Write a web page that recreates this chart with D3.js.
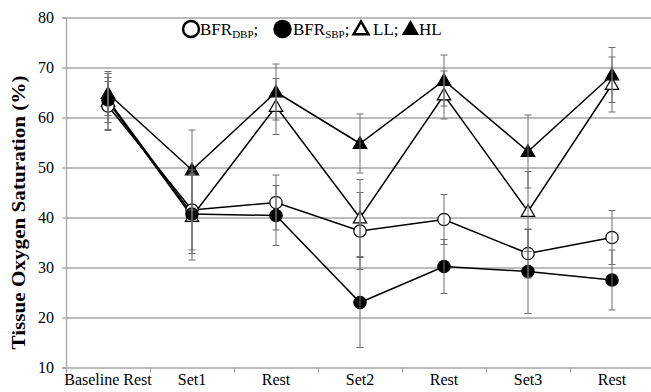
<!DOCTYPE html>
<html>
<head>
<meta charset="utf-8">
<script src="https://cdn.jsdelivr.net/npm/d3@7"></script>
<style>
  html, body { margin: 0; padding: 0; background: #fff; }
  svg { display: block; }
  svg text { font-family: "Liberation Serif", "Times New Roman", serif; }
</style>
</head>
<body>
<svg id="chart" width="651" height="392"></svg>
<script>
// ---- data ----
const categories = ["Baseline Rest", "Set1", "Rest", "Set2", "Rest", "Set3", "Rest"];
const yTicks = [10, 20, 30, 40, 50, 60, 70, 80];

const bfrDbp   = [62.3, 41.5, 43.0, 37.3, 39.6, 32.8, 36.0];
const bfrDbpSd = [4.9, 8.0, 5.5, 7.7, 5.0, 4.9, 5.4];
const bfrSbp   = [63.5, 40.7, 40.4, 23.0, 30.2, 29.2, 27.5];
const bfrSbpSd = [4.5, 7.9, 6.0, 9.0, 5.4, 8.4, 6.0];
const ll       = [63.2, 40.2, 62.2, 39.9, 64.5, 41.2, 66.6];
const llSd     = [5.6, 8.7, 5.6, 7.7, 4.8, 8.0, 5.5];
const hl       = [64.8, 49.5, 65.1, 54.8, 67.4, 53.2, 68.5];
const hlSd     = [4.4, 8.0, 5.6, 5.9, 5.1, 7.3, 5.5];

const series = [
  { name: "LL",     values: ll,     sd: llSd,     shape: "triangle", filled: false },
  { name: "HL",     values: hl,     sd: hlSd,     shape: "triangle", filled: true },
  { name: "BFRDBP", values: bfrDbp, sd: bfrDbpSd, shape: "circle",   filled: false },
  { name: "BFRSBP", values: bfrSbp, sd: bfrSbpSd, shape: "circle",   filled: true }
];

// ---- layout ----
const FONT = "'Liberation Serif', 'Times New Roman', serif";
const svg = d3.select("#chart");
const pLeft = 66, pRight = 654, pTop = 17.5, pBottom = 367.5;
const idx = d3.range(categories.length);

const x = d3.scaleBand().domain(idx).range([pLeft, pRight]).padding(0);
const xEdge = d3.scaleLinear().domain([0, categories.length]).range([pLeft, pRight]);
const y = d3.scaleLinear().domain([10, 80]).range([pBottom, pTop]);
const cx = i => x(i) + x.bandwidth() / 2;

const gridColor = "#a6a6a6";

// gridlines
svg.append("g")
  .attr("transform", `translate(${pLeft},0)`)
  .call(d3.axisLeft(y).tickValues(yTicks.filter(v => v > 10)).tickSize(-(pRight - pLeft)).tickFormat(""))
  .call(g => g.select(".domain").remove())
  .call(g => g.selectAll("line").attr("stroke", gridColor).attr("stroke-width", 1.3));

// y axis
svg.append("g")
  .attr("transform", `translate(${pLeft},0)`)
  .call(d3.axisLeft(y).tickValues(yTicks).tickSize(4).tickPadding(8).tickFormat(d3.format("d")))
  .attr("font-family", FONT)
  .call(g => g.select(".domain").attr("stroke", gridColor).attr("stroke-width", 1.3))
  .call(g => g.selectAll("line").attr("stroke", gridColor).attr("stroke-width", 1.3))
  .call(g => g.selectAll("text").attr("fill", "#000").style("font-size", "16px").style("font-family", FONT));

// x axis: tick marks at band edges
svg.append("g")
  .attr("transform", `translate(0,${pBottom})`)
  .call(d3.axisBottom(xEdge).tickValues(d3.range(categories.length + 1)).tickSize(5).tickFormat(""))
  .call(g => g.select(".domain").attr("stroke", gridColor).attr("stroke-width", 1.3))
  .call(g => g.selectAll("line").attr("stroke", gridColor).attr("stroke-width", 1.3));

// x labels
svg.append("g")
  .attr("transform", `translate(0,${pBottom})`)
  .call(d3.axisBottom(x).tickSize(0).tickPadding(6).tickFormat(i => categories[i]))
  .attr("font-family", FONT)
  .call(g => g.select(".domain").remove())
  .call(g => g.selectAll("text").attr("fill", "#000").style("font-size", "16px").style("font-family", FONT));

// y title
svg.append("text")
  .attr("transform", `translate(25,${(pTop + pBottom) / 2 + 20}) rotate(-90)`)
  .attr("text-anchor", "middle")
  .attr("textLength", 274)
  .attr("lengthAdjust", "spacingAndGlyphs")
  .style("font-family", FONT)
  .style("font-size", "19px")
  .style("font-weight", "bold")
  .text("Tissue Oxygen Saturation (%)");

// lines
const line = d3.line().x((d, i) => cx(i)).y(d => y(d));
series.forEach(s => {
  svg.append("path")
    .datum(s.values)
    .attr("d", line)
    .attr("fill", "none")
    .attr("stroke", "#000")
    .attr("stroke-width", 1.5);
});

// markers
const triSym = d3.symbol().type(d3.symbolTriangle).size(78);
const circSym = d3.symbol().type(d3.symbolCircle).size(120);
series.forEach(s => {
  svg.append("g").selectAll("path")
    .data(s.values)
    .join("path")
    .attr("d", s.shape === "triangle" ? triSym : circSym)
    .attr("transform", (d, i) => `translate(${cx(i)},${y(d) + (s.shape === "triangle" ? 1 : 0)})`)
    .attr("fill", s.filled ? "#000" : "#fff")
    .attr("stroke", "#000")
    .attr("stroke-width", 1.2);
});

// error bars
const capW = 3.5;
series.forEach(s => {
  const g = svg.append("g").attr("stroke", "#6e6e6e").attr("stroke-width", 1);
  s.values.forEach((v, i) => {
    const hi = y(v + s.sd[i]), lo = y(v - s.sd[i]), xc = cx(i);
    g.append("line").attr("x1", xc).attr("x2", xc).attr("y1", hi).attr("y2", lo);
    g.append("line").attr("x1", xc - capW).attr("x2", xc + capW).attr("y1", hi).attr("y2", hi);
    g.append("line").attr("x1", xc - capW).attr("x2", xc + capW).attr("y1", lo).attr("y2", lo);
  });
});

// legend
const lg = svg.append("g");
const legY = 29;
lg.append("path").attr("d", d3.symbol().type(d3.symbolCircle).size(200)())
  .attr("transform", `translate(191,${legY})`).attr("fill", "#fff").attr("stroke", "#000").attr("stroke-width", 2.5);
lg.append("path").attr("d", d3.symbol().type(d3.symbolCircle).size(270)())
  .attr("transform", `translate(282.5,${legY})`).attr("fill", "#000");
lg.append("path").attr("d", d3.symbol().type(d3.symbolTriangle).size(95)())
  .attr("transform", `translate(361,${legY + 1})`).attr("fill", "#fff").attr("stroke", "#000").attr("stroke-width", 2.5);
lg.append("path").attr("d", d3.symbol().type(d3.symbolTriangle).size(130)())
  .attr("transform", `translate(410.5,${legY + 1})`).attr("fill", "#000");

const legendItems = [
  { x: 200, main: "BFR", sub: "DBP", tail: ";" },
  { x: 293, main: "BFR", sub: "SBP", tail: ";" },
  { x: 373, main: "LL;", sub: "", tail: "" },
  { x: 419, main: "HL", sub: "", tail: "" }
];
legendItems.forEach(it => {
  const t = lg.append("text").attr("x", it.x).attr("y", 35)
    .style("font-family", FONT).style("font-size", "17px");
  t.append("tspan").text(it.main);
  if (it.sub) {
    t.append("tspan").attr("dy", 3).style("font-size", "11px").text(it.sub);
    t.append("tspan").attr("dy", -3).text(it.tail);
  }
});
</script>
</body>
</html>
